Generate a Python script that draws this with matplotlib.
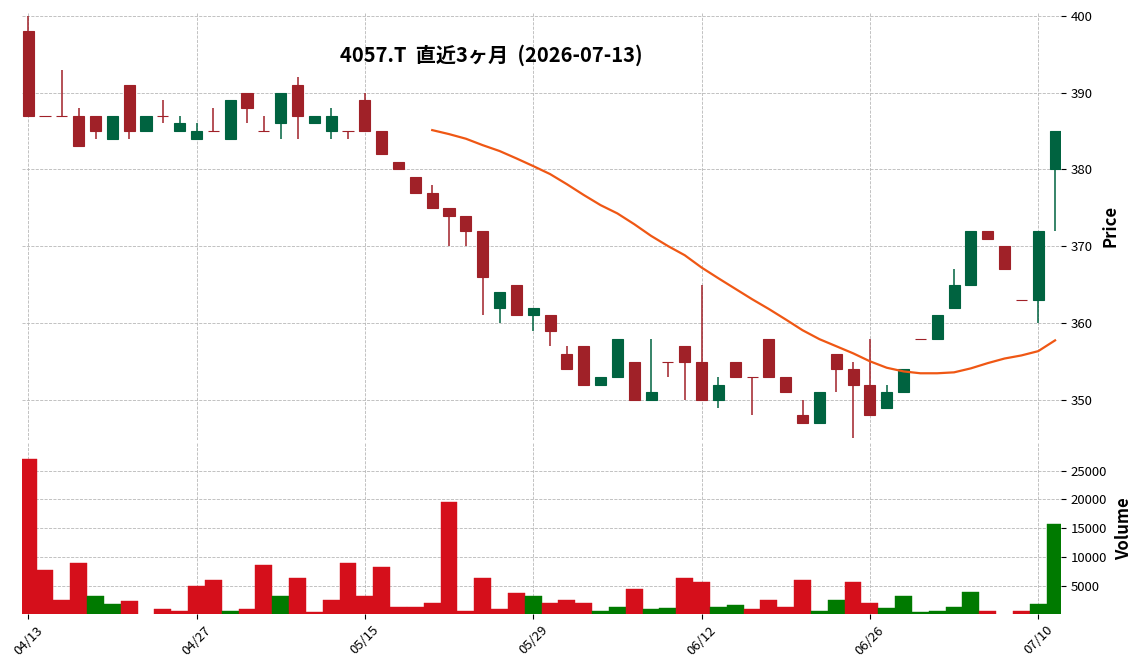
import numpy as np
import pandas as pd
import matplotlib
matplotlib.use('Agg')
import matplotlib.pyplot as plt

plt.rcParams['font.family'] = ['Noto Sans CJK JP', 'DejaVu Sans']

# trading days (TSE holidays removed)
holidays = ['2026-04-29', '2026-05-04', '2026-05-05', '2026-05-06']
dates = pd.bdate_range('2026-04-13', '2026-07-13', freq='C', holidays=holidays)

opens = [398, 387, 387, 387, 387, 384, 391, 385, 387, 385,
         384, 385, 384, 390, 385, 386, 391, 386, 385, 385,
         389, 385, 381, 379, 377, 375, 374, 372, 362, 365,
         361, 361, 356, 357, 352, 353, 355, 350, 355, 357,
         355, 350, 355, 353, 358, 353, 348, 347, 356, 354,
         352, 349, 351, 358, 358, 362, 365, 372, 370, 363,
         363, 380]
highs = [400, 387, 393, 388, 387, 387, 391, 387, 389, 387,
         386, 388, 389, 390, 387, 390, 392, 387, 388, 385,
         390, 385, 381, 379, 378, 375, 374, 372, 364, 365,
         362, 361, 357, 357, 353, 358, 355, 358, 355, 357,
         365, 353, 355, 353, 358, 353, 350, 351, 356, 355,
         358, 352, 354, 358, 361, 367, 372, 372, 370, 363,
         372, 385]
lows = [387, 387, 387, 383, 384, 384, 384, 385, 386, 385,
        384, 385, 384, 386, 385, 384, 384, 386, 384, 384,
        385, 382, 380, 377, 375, 370, 370, 361, 360, 361,
        359, 357, 354, 352, 352, 353, 350, 350, 353, 350,
        350, 349, 353, 348, 353, 351, 347, 347, 351, 345,
        348, 349, 351, 358, 358, 362, 365, 371, 367, 363,
        360, 372]
closes = [387, 387, 387, 383, 385, 387, 385, 387, 387, 386,
          385, 385, 389, 388, 385, 390, 387, 387, 387, 385,
          385, 382, 380, 377, 375, 374, 372, 366, 364, 361,
          362, 359, 354, 352, 353, 358, 350, 351, 355, 355,
          350, 352, 353, 353, 353, 351, 347, 351, 354, 352,
          348, 351, 354, 358, 361, 365, 372, 371, 367, 363,
          372, 385]
volumes = [27100, 7800, 2500, 8900, 3200, 1800, 2300, 0, 900, 700,
           4900, 6100, 600, 900, 8700, 3200, 6300, 400, 2600, 8900,
           3200, 8300, 1400, 1300, 2100, 19500, 700, 6400, 900, 3700,
           3200, 2100, 2600, 2000, 600, 1400, 4500, 900, 1100, 6400,
           5600, 1400, 1600, 900, 2500, 1300, 6100, 700, 2600, 5700,
           2100, 1100, 3300, 400, 700, 1300, 3900, 600, 0, 600,
           1800, 15700]

title = '4057.T  直近3ヶ月  (2026-07-13)'
mav_window = 25

UP = '#006340'
DOWN = '#a02128'
VUP = '#007a00'
VDOWN = '#d50f1b'
MA_COLOR = '#ef5714'
GRID = '#b8b8b8'

o = np.array(opens, dtype=float)
c = np.array(closes, dtype=float)
h = np.array(highs, dtype=float)
l = np.array(lows, dtype=float)
v = np.array(volumes, dtype=float)
x = np.arange(len(dates))

candle_colors = [UP if oo < cc else DOWN for oo, cc in zip(o, c)]
prev = np.concatenate([[o[0]], c[:-1]])
vol_colors = [VUP if pp < cc else VDOWN for pp, cc in zip(prev, c)]
mav = pd.Series(c).rolling(mav_window).mean()

fig = plt.figure(figsize=(11.45, 6.71), dpi=100)
ax1 = fig.add_axes([0.0192, 0.3443, 0.9074, 0.6368])
ax2 = fig.add_axes([0.0192, 0.0850, 0.9074, 0.2548], sharex=ax1)

# price panel
ax1.vlines(x, l, h, colors=candle_colors, linewidth=1.1, zorder=2)
ax1.bar(x, np.abs(c - o), bottom=np.minimum(o, c), width=0.66,
        color=candle_colors, edgecolor=candle_colors, linewidth=0.8, zorder=3)
ax1.plot(x, mav, color=MA_COLOR, linewidth=1.6, zorder=4)

# volume panel
ax2.bar(x, v, width=1.0, color=vol_colors, edgecolor=vol_colors,
        linewidth=0.3, zorder=2)

ax1.set_xlim(-0.37, len(x) - 1 + 0.35)
ax1.set_ylim(344.8, 400.4)
ax1.set_yticks([350, 360, 370, 380, 390, 400])
ax2.set_ylim(0.3 * v[v > 0].min(), 1.1 * v.max())
ax2.set_yticks([5000, 10000, 15000, 20000, 25000])

tick_pos = x[::10]
ax2.set_xticks(tick_pos)
ax2.set_xticklabels([d.strftime('%m/%d') for d in dates[tick_pos]],
                    rotation=45, ha='center')

for ax in (ax1, ax2):
    for s in ax.spines.values():
        s.set_visible(False)
    ax.yaxis.tick_right()
    ax.grid(True, linestyle='--', color=GRID, linewidth=0.6)
    ax.set_axisbelow(True)
    ax.tick_params(axis='y', labelsize=9.5, length=3.5, width=0.8)
ax1.tick_params(axis='x', length=0, labelbottom=False)
ax2.tick_params(axis='x', labelsize=9.5, length=3.5, width=0.8)

for ax, label in ((ax1, 'Price'), (ax2, 'Volume')):
    ax.yaxis.set_label_position('right')
    ax.set_ylabel(label, fontsize=12, fontweight='bold', labelpad=6)

fig.text(0.4288, 0.9173, title, ha='center', va='center',
         fontsize=14.5, fontweight='bold')

fig.savefig('out.png', dpi=100)
